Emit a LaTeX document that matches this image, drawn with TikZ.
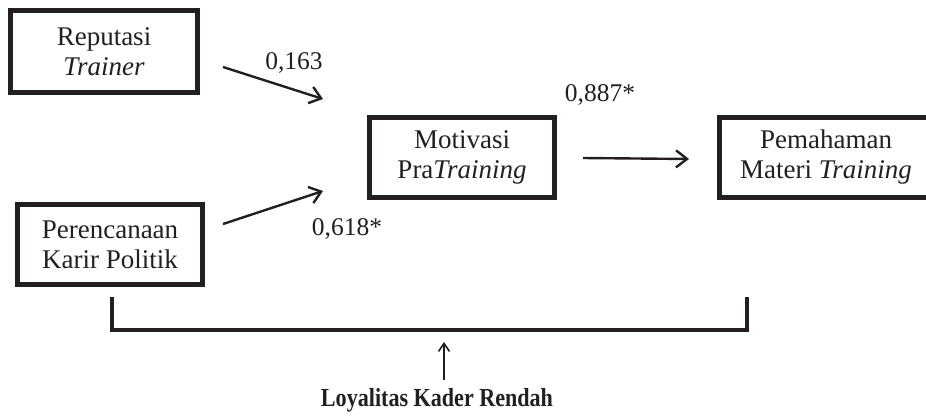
\documentclass[tikz,border=0pt]{standalone}
\usepackage{fontspec}
\setmainfont{Liberation Serif}
\newfontfamily\loyfont[FakeStretch=0.85]{Liberation Serif Bold}
\usetikzlibrary{arrows.meta,positioning}
\definecolor{ink}{RGB}{35,31,32}
\tikzset{
  box/.style={draw=ink, text=ink, line width=5pt, align=center, inner sep=0pt,
    font=\fontsize{27}{30}\selectfont},
  arr/.style={draw=ink, line width=2.4pt, -{Straight Barb[length=11pt,width=17pt,line width=2.4pt]}},
  thinarr/.style={draw=ink, line width=1.6pt, -{Straight Barb[length=8pt,width=11pt,line width=1.6pt]}},
  coef/.style={text=ink, inner sep=0pt, font=\fontsize{25.5}{30}\selectfont},
  brk/.style={draw=ink, line width=4pt},
}
\begin{document}
\begin{tikzpicture}[x=1pt,y=-1pt]
\useasboundingbox (0,0) rectangle (926,415);
\begin{scope}
\clip (0,0) rectangle (926,415);
\node[box, minimum width=187pt, minimum height=82pt] (rep) at (104,51.5) {Reputasi\\\itshape Trainer};
\node[box, minimum width=185pt, minimum height=80pt] (per) at (110,244.5) {Perencanaan\\Karir Politik};
\node[box, minimum width=185pt, minimum height=80pt] (mot) at (462,157.5) {Motivasi\\Pra\textit{Training}};
\node[box, minimum width=213pt, minimum height=80pt] (pem) at (826,157.5) {Pemahaman\\Materi \textit{Training}};
\end{scope}

\coordinate (a1s) at (223,67);
\coordinate (a1e) at (323,99);
\coordinate (a2s) at (223,224);
\coordinate (a2e) at (323,191);
\coordinate (a3s) at (583,158);
\coordinate (a3e) at (689,159);
\draw[arr] (a1s) -- (a1e);
\draw[arr] (a2s) -- (a2e);
\draw[arr] (a3s) -- (a3e);

\node[coef] (c1) at (294,63) {0,163};
\node[coef] (c2) at (347,229) {0,618*};
\node[coef] (c3) at (600,95) {0,887*};

\coordinate (bl) at (112,297);
\coordinate (br) at (747,297);
\coordinate (bm) at (747,330);
\draw[brk] (bl) |- (bm) -- (br);

\node[text=ink, inner sep=0pt, font=\loyfont\fontsize{26}{30}\selectfont] (loy) at (437,400) {Loyalitas Kader Rendah};
\coordinate (up) at (444,342);
\draw[thinarr] (loy.north -| up) ++(0,-8) -- (up);
\end{tikzpicture}
\end{document}
